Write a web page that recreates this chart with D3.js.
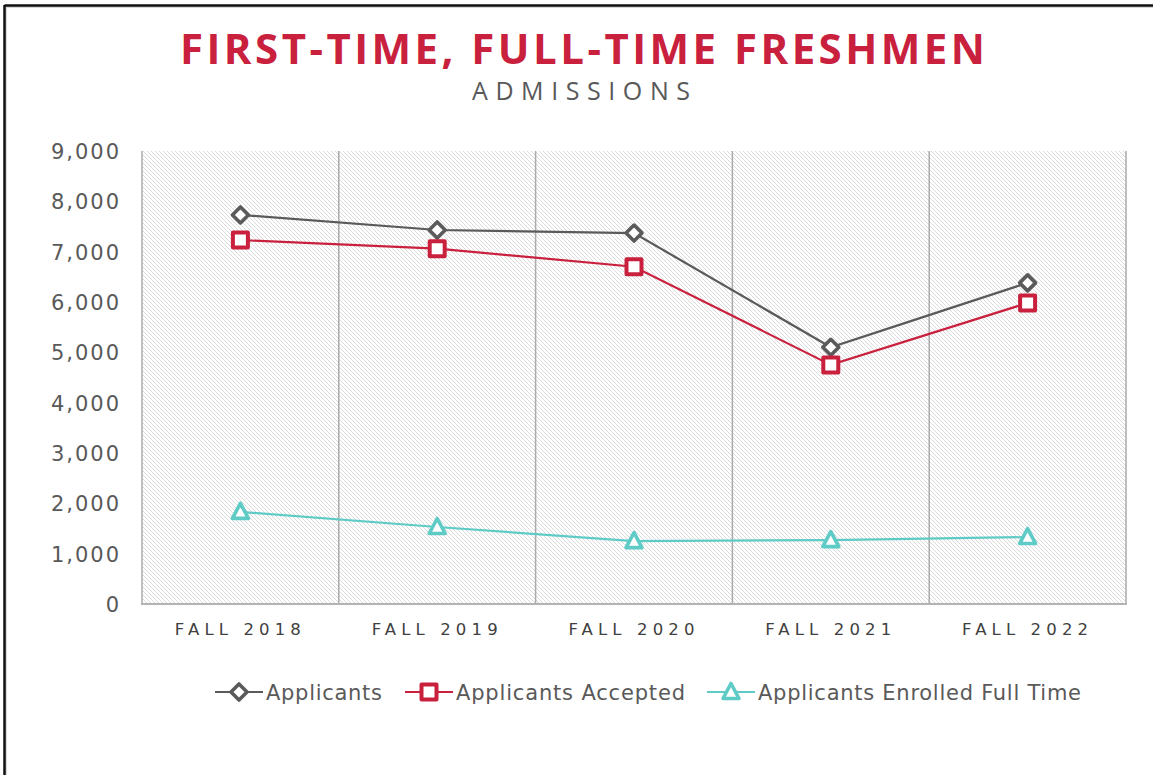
<!DOCTYPE html>
<html><head><meta charset="utf-8">
<script src="https://cdn.jsdelivr.net/npm/d3@7"></script>
<style>
html,body{margin:0;padding:0;background:#fff;}
svg{display:block;font-family:"DejaVu Sans",sans-serif;}
</style></head>
<body><svg id="chart" width="1153" height="775"></svg>
<script>
const categories = ["FALL 2018","FALL 2019","FALL 2020","FALL 2021","FALL 2022"];
const applicants = [7730, 7430, 7370, 5100, 6380];
const accepted = [7230, 7060, 6700, 4750, 5980];
const enrolled = [1830, 1530, 1250, 1270, 1330];
const yTicks = [0,1000,2000,3000,4000,5000,6000,7000,8000,9000];
const seriesNames = ["Applicants","Applicants Accepted","Applicants Enrolled Full Time"];
const titleText = "FIRST-TIME, FULL-TIME FRESHMEN";
const subtitleText = "ADMISSIONS";

const series = [
  {name: seriesNames[0], values: applicants, color: "#5a5a5a", shape: "diamond"},
  {name: seriesNames[1], values: accepted, color: "#c8203d", shape: "square"},
  {name: seriesNames[2], values: enrolled, color: "#5fcbc6", shape: "triangle"}
];

const svg = d3.select("#chart");
const W = 1153, H = 775;
const m = {left:142, right:1126, top:151, bottom:604};
const FONT = "'DejaVu Sans',sans-serif";
const TFONT = "'Open Sans',Lato,sans-serif";

function fitText(t, target){
  const n = t.text().length;
  t.attr("letter-spacing", null);
  const w = t.node().getComputedTextLength();
  const ls = (target - w)/(n-1);
  t.attr("letter-spacing", ls+"px");
  return ls;
}

// frame
svg.append("rect").attr("x",6).attr("y",7).attr("width",W).attr("height",H).attr("fill","none").attr("stroke","#d8d8d8").attr("stroke-width",2);
svg.append("line").attr("x1",4.5).attr("x2",W).attr("y1",5.5).attr("y2",5.5).attr("stroke","#111").attr("stroke-width",2.5);
svg.append("line").attr("x1",4.5).attr("x2",4.5).attr("y1",5).attr("y2",H).attr("stroke","#111").attr("stroke-width",2.5);

// pattern
const defs = svg.append("defs");
const pat = defs.append("pattern").attr("id","hatch").attr("patternUnits","userSpaceOnUse")
  .attr("width",4).attr("height",4);
pat.append("rect").attr("width",4).attr("height",4).attr("fill","#fff");
pat.append("path").attr("d","M-1,-1 L5,5 M-1,3 L1,5 M3,-1 L5,1").attr("stroke","#d6d6d6").attr("stroke-width",0.9);

const x = d3.scaleBand().domain(categories).range([m.left, m.right]).padding(0);
const y = d3.scaleLinear().domain([0,9000]).range([m.bottom, m.top]);

svg.append("rect").attr("x",m.left).attr("y",m.top).attr("width",m.right-m.left).attr("height",m.bottom-m.top).attr("fill","url(#hatch)");

// vertical separators
const bounds = categories.map(c => x(c)).concat([m.right]);
svg.append("g").selectAll("line").data(bounds).join("line")
  .attr("x1",d=>d).attr("x2",d=>d).attr("y1",m.top).attr("y2",m.bottom)
  .attr("stroke","#ababab").attr("stroke-width",1.5);
svg.append("line").attr("x1",m.left-1).attr("x2",m.right+1).attr("y1",m.bottom).attr("y2",m.bottom)
  .attr("stroke","#b3b3b3").attr("stroke-width",2);

// y axis
const yAxis = svg.append("g").attr("transform",`translate(${m.left-21},0)`)
  .call(d3.axisLeft(y).tickValues(yTicks).tickSize(0).tickPadding(0).tickFormat(d3.format(",")));
yAxis.select(".domain").remove();
const yTexts = yAxis.selectAll("text").attr("font-size",21).attr("fill","#595959").attr("font-family",FONT).attr("dy","0.36em");
const topLabel = yTexts.filter(d=>d===9000);
const yls = fitText(topLabel, 68);
yTexts.attr("letter-spacing", yls+"px");

// x axis
const xAxis = svg.append("g").attr("transform",`translate(0,${m.bottom})`)
  .call(d3.axisBottom(x).tickSize(0).tickPadding(19));
xAxis.select(".domain").remove();
const xTexts = xAxis.selectAll("text").attr("font-size",16.5).attr("fill","#404040").attr("font-family",FONT).attr("dy","0.71em");
xTexts.each(function(){ fitText(d3.select(this), 126); });

// shapes
function markerPath(shape){
  if(shape==="diamond") return "M0,-8 L8,0 L0,8 L-8,0 Z";
  if(shape==="square") return "M-7.5,-7.5 L7.5,-7.5 L7.5,7.5 L-7.5,7.5 Z";
  return "M0,-8.5 L8,6.5 L-8,6.5 Z";
}
const line = d3.line().x((d,i)=>x(categories[i])+x.bandwidth()/2).y(d=>y(d));
series.forEach(s=>{
  svg.append("path").datum(s.values).attr("d",line).attr("fill","none").attr("stroke",s.color).attr("stroke-width",2.2);
  svg.append("g").selectAll("path").data(s.values).join("path")
    .attr("transform",(d,i)=>`translate(${x(categories[i])+x.bandwidth()/2},${y(d)})`)
    .attr("d",markerPath(s.shape)).attr("fill","#fff").attr("stroke",s.color)
    .attr("stroke-width", s.shape==="square"?4:3.6).attr("stroke-linejoin","round");
});

// legend
const legendItems = [
  {s:series[0], lx:215, tw:116},
  {s:series[1], lx:405, tw:229},
  {s:series[2], lx:707, tw:323}
];
legendItems.forEach(it=>{
  const g = svg.append("g").attr("transform",`translate(${it.lx},692)`);
  g.append("line").attr("x1",0).attr("x2",48).attr("y1",0).attr("y2",0).attr("stroke",it.s.color).attr("stroke-width",2.2);
  g.append("path").attr("transform","translate(24,0)").attr("d",markerPath(it.s.shape)).attr("fill","#fff")
    .attr("stroke",it.s.color).attr("stroke-width",it.s.shape==="square"?4:3.6).attr("stroke-linejoin","round");
  const t = g.append("text").attr("x",51).attr("y",0).attr("dy","0.36em").attr("font-size",21).attr("fill","#595959").attr("font-family",FONT).text(it.s.name);
  fitText(t, it.tw);
});

// titles
const title = svg.append("text").attr("x",180).attr("y",64).attr("font-size",42).attr("font-weight",700)
  .attr("fill","#c8203d").attr("font-family",TFONT).text(titleText);
fitText(title, 805);
const sub = svg.append("text").attr("x",472).attr("y",100).attr("font-size",25)
  .attr("fill","#595959").attr("font-family",TFONT).text(subtitleText);
fitText(sub, 218);
</script></body></html>
